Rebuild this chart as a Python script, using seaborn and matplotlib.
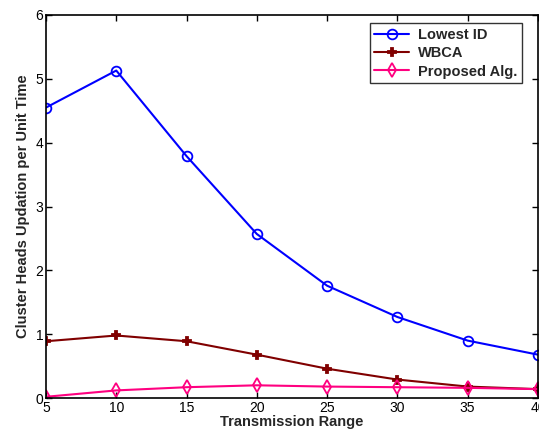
import matplotlib
matplotlib.use("Agg")
import matplotlib.pyplot as plt
import seaborn as sns
import pandas as pd

x_range = [5, 10, 15, 20, 25, 30, 35, 40]
lowest_id = [4.55, 5.13, 3.79, 2.57, 1.76, 1.27, 0.90, 0.68]
wbca = [0.89, 0.98, 0.89, 0.68, 0.46, 0.29, 0.18, 0.14]
proposed = [0.02, 0.12, 0.17, 0.20, 0.18, 0.17, 0.16, 0.14]
series_names = ["Lowest ID", "WBCA", "Proposed Alg."]

sns.set_theme(style="white")
plt.rcParams['font.family'] = ['Liberation Sans', 'DejaVu Sans']

df = pd.DataFrame({
    "x": x_range * 3,
    "y": lowest_id + wbca + proposed,
    "series": [series_names[0]] * 8 + [series_names[1]] * 8 + [series_names[2]] * 8,
})

fig = plt.figure(figsize=(5.39, 4.36), dpi=100)
ax = fig.add_axes([0.0853, 0.087, 0.9127, 0.8786])

colors = {"Lowest ID": "#0000ff", "WBCA": "#800000", "Proposed Alg.": "#ff0080"}
markers = {"Lowest ID": "o", "WBCA": "P", "Proposed Alg.": "d"}
for name in series_names:
    sub = df[df.series == name]
    m = markers[name]
    kw = dict(marker=m, markersize=7 if m != "P" else 5.5, markeredgewidth=1.3)
    if m == "P":
        kw.update(markerfacecolor=colors[name], markeredgecolor=colors[name])
    else:
        kw.update(markerfacecolor="none", markeredgecolor=colors[name])
    sns.lineplot(data=sub, x="x", y="y", ax=ax, color=colors[name], label=name,
                 linewidth=1.5, **kw)

ax.set_xlim(5, 40)
ax.set_ylim(0, 6)
ax.set_xticks(x_range)
ax.set_yticks([0, 1, 2, 3, 4, 5, 6])
ax.tick_params(direction="in", length=4, width=1, labelsize=10, colors="black",
               top=True, right=True, bottom=True, left=True, pad=2)
for s in ax.spines.values():
    s.set_visible(True)
    s.set_color("black")
    s.set_linewidth(1.2)
ax.set_xlabel("Transmission Range", fontsize=10.5, fontweight="bold", labelpad=0)
ax.set_ylabel("Cluster Heads Updation per Unit Time", fontsize=10.5, fontweight="bold", labelpad=4)

leg = ax.legend(loc="upper right", bbox_to_anchor=(0.982, 0.997), frameon=True,
                fancybox=False, edgecolor="black",
                prop={"weight": "bold", "size": 10.5}, handlelength=2.4,
                borderpad=0.3, labelspacing=0.3, handletextpad=0.6)
leg.get_frame().set_linewidth(1.0)

fig.savefig("out.png", dpi=100)
